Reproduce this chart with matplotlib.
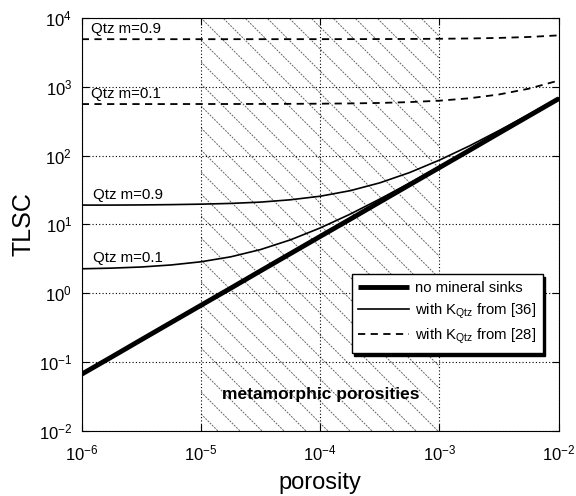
import matplotlib
matplotlib.use('Agg')
import matplotlib.pyplot as plt
from matplotlib.collections import LineCollection
from matplotlib.transforms import IdentityTransform
import numpy as np

plt.rcParams['font.family'] = ['Liberation Sans', 'DejaVu Sans']
plt.rcParams['mathtext.fontset'] = 'custom'
plt.rcParams['mathtext.rm'] = 'Liberation Sans'

# porosity grid (quarter decades) and read-off TLSC values
porosity = [1e-6, 1.78e-6, 3.16e-6, 5.62e-6, 1e-5, 1.78e-5, 3.16e-5, 5.62e-5,
            1e-4, 1.78e-4, 3.16e-4, 5.62e-4, 1e-3, 1.78e-3, 3.16e-3, 5.62e-3, 1e-2]
no_sinks = [0.067, 0.119, 0.212, 0.377, 0.67, 1.19, 2.12, 3.77,
            6.7, 11.9, 21.2, 37.7, 67, 119, 212, 377, 670]
qtz36_m09 = [19.1, 19.1, 19.2, 19.4, 19.7, 20.2, 21.1, 22.8,
             25.7, 30.9, 40.2, 56.7, 86, 138, 231, 396, 689]
qtz36_m01 = [2.27, 2.32, 2.41, 2.58, 2.87, 3.39, 4.32, 5.97,
             8.9, 14.1, 23.4, 39.9, 69, 121, 214, 379, 672]
qtz28_m09 = [4900, 4900, 4900, 4900, 4900, 4901, 4902, 4904,
             4907, 4912, 4921, 4938, 4967, 5019, 5112, 5277, 5570]
qtz28_m01 = [560, 560, 560, 560, 561, 561, 562, 564,
             567, 572, 581, 598, 627, 679, 772, 937, 1230]

meta_range = [1e-5, 1e-3]

fig = plt.figure(figsize=(5.76, 4.96), dpi=100)
ax = fig.add_axes([0.142, 0.131, 0.828, 0.833])

ax.set_xscale('log')
ax.set_yscale('log')
ax.set_xlim(1e-6, 1e-2)
ax.set_ylim(1e-2, 1e4)

# hatched band for metamorphic porosities (45 deg lines, ~22 px apart)
span = ax.axvspan(meta_range[0], meta_range[1], facecolor='none', linewidth=0, zorder=0)
bb = ax.bbox
xl = ax.transData.transform((meta_range[0], 1))[0]
xr = ax.transData.transform((meta_range[1], 1))[0]
segs = []
for c in np.arange(xl + bb.y0 - 5, xr + bb.y1 + 22, 22):
    segs.append([(xl, c - xl), (xr, c - xr)])
hatch = LineCollection(segs, colors='0.4', linewidths=0.7, linestyles=[(0, (2, 1.2))],
                       transform=IdentityTransform(), zorder=0.5)
ax.add_collection(hatch, autolim=False)
hatch.set_clip_path(span)

ax.plot(porosity, no_sinks, 'k-', linewidth=3.5, solid_capstyle='butt',
        label='no mineral sinks', zorder=3)
ax.plot(porosity, qtz36_m09, 'k-', linewidth=1.2,
        label=r'with K$_{\mathrm{Qtz}}$ from [36]', zorder=3)
ax.plot(porosity, qtz36_m01, 'k-', linewidth=1.2, zorder=3)
ax.plot(porosity, qtz28_m09, color='k', linestyle=(0, (4, 3)), linewidth=1.3,
        label=r'with K$_{\mathrm{Qtz}}$ from [28]', zorder=3)
ax.plot(porosity, qtz28_m01, color='k', linestyle=(0, (4, 3)), linewidth=1.3, zorder=3)

# curve labels
ax.text(1.2e-6, qtz28_m09[0] * 1.12, 'Qtz m=0.9', fontsize=10.8, va='bottom')
ax.text(1.2e-6, qtz28_m01[0] * 1.12, 'Qtz m=0.1', fontsize=10.8, va='bottom')
ax.text(1.25e-6, qtz36_m09[0] * 1.12, 'Qtz m=0.9', fontsize=10.8, va='bottom')
ax.text(1.25e-6, qtz36_m01[0] * 1.12, 'Qtz m=0.1', fontsize=10.8, va='bottom')
ax.text(1e-4, 0.034, 'metamorphic porosities', fontsize=12.5, fontweight='bold',
        ha='center', va='center', zorder=4)

ax.set_xticks([1e-6, 1e-5, 1e-4, 1e-3, 1e-2])
ax.set_yticks([1e-2, 1e-1, 1e0, 1e1, 1e2, 1e3, 1e4])
ax.minorticks_off()
ax.tick_params(direction='in', top=True, right=True, length=5, labelsize=12)
ax.tick_params(axis='x', pad=9)
ax.tick_params(axis='y', pad=7)
ax.grid(True, color='k', linestyle=(0, (1, 2)), linewidth=0.8)
ax.set_axisbelow(True)

ax.set_xlabel('porosity', fontsize=17)
ax.set_ylabel('TLSC', fontsize=18)
ax.xaxis.set_label_coords(0.5, -0.1)
ax.yaxis.set_label_coords(-0.098, 0.5)

leg = ax.legend(loc='lower right', bbox_to_anchor=(0.966, 0.189), fontsize=10.7,
                frameon=True, fancybox=False, edgecolor='k', framealpha=1,
                shadow={'color': 'k', 'alpha': 1}, handlelength=3.4,
                handletextpad=0.4, borderpad=0.45, labelspacing=0.4,
                borderaxespad=0)
leg.get_frame().set_linewidth(1.0)

plt.savefig('out.png', dpi=100)
plt.close()
